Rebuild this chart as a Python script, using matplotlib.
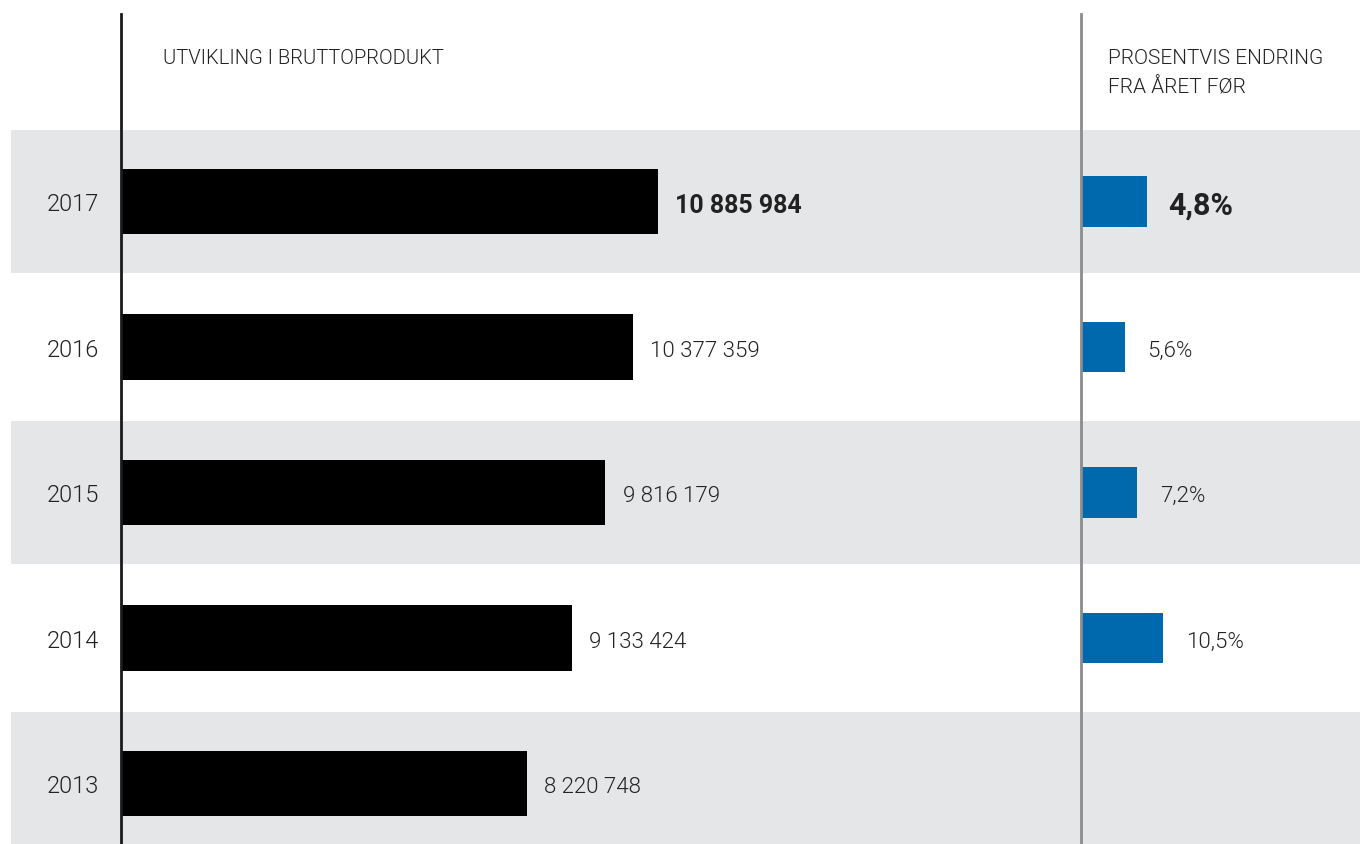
import matplotlib
matplotlib.use("Agg")
import matplotlib.pyplot as plt

# ---- data ----
years = ["2017", "2016", "2015", "2014", "2013"]
values = [10885984, 10377359, 9816179, 9133424, 8220748]
value_labels = ["10 885 984", "10 377 359", "9 816 179", "9 133 424", "8 220 748"]
pct_years = ["2017", "2016", "2015", "2014"]
pct_values = [4.8, 5.6, 7.2, 10.5]
pct_labels = ["4,8%", "5,6%", "7,2%", "10,5%"]
# bar lengths as drawn in the original (2017 bar is drawn longer than its label)
pct_bar_drawn = [8.5, 5.6, 7.2, 10.5]
title_left = "UTVIKLING I BRUTTOPRODUKT"
title_right = ["PROSENTVIS ENDRING", "FRA ÅRET FØR"]

# ---- style ----
FONT = ["Roboto", "DejaVu Sans"]
plt.rcParams["font.family"] = FONT
TXT = "#222222"
BAND = "#E5E6E8"
BLUE = "#0068AD"

W, H = 1360, 845
fig = plt.figure(figsize=(W / 100, H / 100), dpi=100)

def fx(px):
    return px / W

def fy(py):
    return 1 - py / H

top_px, bot_px = 15, 845
row0, step = 202.5, 145.5
ylim = ((bot_px - row0) / step, -(row0 - top_px) / step)
ypos = list(range(len(years)))

# background bands
bg = fig.add_axes([fx(11), fy(bot_px), 1 - fx(11), (bot_px - top_px) / H], zorder=0)
bg.set_ylim(*ylim)
bg.set_xlim(0, 1)
for i in ypos:
    if i % 2 == 0:
        bg.axhspan(i - 0.492, i + 0.492, color=BAND, lw=0)
bg.axis("off")

# main bars
ax = fig.add_axes([fx(121), fy(bot_px), fx(1081 - 121), (bot_px - top_px) / H], zorder=2)
ax.patch.set_alpha(0)
px_per_unit = 537 / 10885984
ax.set_xlim(0, (1081 - 121) / px_per_unit)
ax.set_ylim(*ylim)
ax.barh(ypos, values, height=0.45, color="black")
for i, (v, lab) in enumerate(zip(values, value_labels)):
    ax.annotate(lab, (v, i), xytext=(12.5, -2.2), textcoords="offset points",
                va="center", ha="left", fontsize=18 if i == 0 else 16, color=TXT,
                fontweight="bold" if i == 0 else 300)
ax.set_yticks(ypos)
ax.set_yticklabels(years, fontsize=17, fontweight=300, color=TXT)
ax.tick_params(axis="y", length=0, pad=16)
ax.set_xticks([])
for s in ["top", "right", "bottom"]:
    ax.spines[s].set_visible(False)
ax.spines["left"].set_linewidth(2)
ax.spines["left"].set_color("#1a1a1a")

# percent bars
ax2 = fig.add_axes([fx(1081), fy(bot_px), 1 - fx(1081), (bot_px - top_px) / H], zorder=2)
ax2.patch.set_alpha(0)
ax2.set_xlim(0, (W - 1081) / 7.8)
ax2.set_ylim(*ylim)
ax2.barh(range(len(pct_years)), pct_bar_drawn, height=0.35, color=BLUE)
for i, (v, lab) in enumerate(zip(pct_bar_drawn, pct_labels)):
    ax2.annotate(lab, (v, i), xytext=(15 if i == 0 else 16.5, -2.2), textcoords="offset points",
                 va="center", ha="left",
                 fontsize=22 if i == 0 else 16, color=TXT,
                 fontweight="bold" if i == 0 else 300)
ax2.set_xticks([])
ax2.set_yticks([])
for s in ["top", "right", "bottom"]:
    ax2.spines[s].set_visible(False)
ax2.spines["left"].set_linewidth(2)
ax2.spines["left"].set_color("#8c8c8c")

# headers
fig.text(fx(163), fy(58), title_left, fontsize=14.5, fontweight=300, color=TXT,
         ha="left", va="center")
fig.text(fx(1108), fy(58), title_right[0], fontsize=15, fontweight=300, color=TXT,
         ha="left", va="center")
fig.text(fx(1108), fy(88), title_right[1], fontsize=15, fontweight=300, color=TXT,
         ha="left", va="center")

fig.savefig("out.png", dpi=100, facecolor="white")
